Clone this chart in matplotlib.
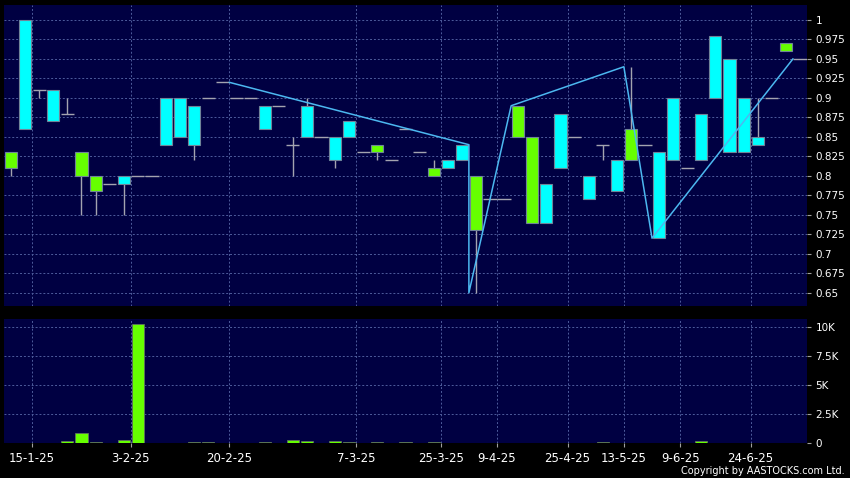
import numpy as np
import matplotlib.pyplot as plt

# one slot per trading day
opens = [0.83, 0.86, 0.91, 0.87, 0.88, 0.83, 0.80, 0.79, 0.79, 0.80,
         0.80, 0.84, 0.85, 0.84, 0.90, 0.92, 0.90, 0.90, 0.86, 0.89,
         0.84, 0.85, 0.85, 0.82, 0.85, 0.83, 0.84, 0.82, 0.86, 0.83,
         0.81, 0.81, 0.82, 0.80, 0.77, 0.77, 0.89, 0.85, 0.74, 0.81,
         0.85, 0.77, 0.84, 0.78, 0.86, 0.84, 0.72, 0.82, 0.81, 0.82,
         0.90, 0.83, 0.83, 0.84, 0.90, 0.97, 0.95]
highs = [0.83, 1.00, 0.91, 0.91, 0.90, 0.83, 0.80, 0.79, 0.80, 0.80,
         0.80, 0.90, 0.90, 0.89, 0.90, 0.92, 0.90, 0.90, 0.89, 0.89,
         0.85, 0.90, 0.85, 0.85, 0.87, 0.83, 0.84, 0.82, 0.86, 0.83,
         0.82, 0.82, 0.84, 0.80, 0.77, 0.77, 0.89, 0.85, 0.79, 0.88,
         0.85, 0.80, 0.84, 0.82, 0.94, 0.84, 0.83, 0.90, 0.81, 0.88,
         0.98, 0.95, 0.90, 0.90, 0.90, 0.97, 0.95]
lows = [0.80, 0.86, 0.90, 0.87, 0.88, 0.75, 0.75, 0.79, 0.75, 0.80,
        0.80, 0.84, 0.85, 0.82, 0.90, 0.92, 0.90, 0.90, 0.86, 0.89,
        0.80, 0.85, 0.85, 0.81, 0.85, 0.83, 0.82, 0.82, 0.86, 0.83,
        0.80, 0.81, 0.82, 0.65, 0.77, 0.77, 0.85, 0.74, 0.74, 0.81,
        0.85, 0.77, 0.82, 0.78, 0.82, 0.84, 0.72, 0.82, 0.81, 0.82,
        0.90, 0.83, 0.83, 0.84, 0.90, 0.96, 0.95]
closes = [0.81, 1.00, 0.91, 0.91, 0.88, 0.80, 0.78, 0.79, 0.80, 0.80,
          0.80, 0.90, 0.90, 0.89, 0.90, 0.92, 0.90, 0.90, 0.89, 0.89,
          0.84, 0.89, 0.85, 0.85, 0.87, 0.83, 0.83, 0.82, 0.86, 0.83,
          0.80, 0.82, 0.84, 0.73, 0.77, 0.77, 0.85, 0.74, 0.79, 0.88,
          0.85, 0.80, 0.84, 0.82, 0.82, 0.84, 0.83, 0.90, 0.81, 0.88,
          0.98, 0.95, 0.90, 0.85, 0.90, 0.96, 0.95]
volumes = [0, 60, 60, 80, 200, 900, 100, 0, 320, 10300,
           30, 0, 50, 100, 150, 60, 60, 0, 100, 0,
           320, 200, 30, 240, 120, 0, 100, 0, 100, 30,
           100, 0, 0, 0, 0, 0, 0, 0, 0, 0,
           30, 0, 100, 0, 0, 0, 0, 30, 0, 180,
           0, 0, 0, 0, 0, 30, 0]

# zigzag overlay (slot position, price)
zz_x = [15.5, 32.5, 32.5, 35.5, 43.5, 45.5, 55.5]
zz_y = [0.92, 0.84, 0.65, 0.89, 0.94, 0.72, 0.95]

date_pos = [1.5, 8.5, 15.5, 24.5, 30.5, 34.5, 39.5, 43.5, 47.5, 52.5]
date_labels = ['15-1-25', '3-2-25', '20-2-25', '7-3-25', '25-3-25',
               '9-4-25', '25-4-25', '13-5-25', '9-6-25', '24-6-25']
price_ticks = [0.65, 0.675, 0.7, 0.725, 0.75, 0.775, 0.8, 0.825,
               0.85, 0.875, 0.9, 0.925, 0.95, 0.975, 1.0]
vol_ticks = [0, 2500, 5000, 7500, 10000]
vol_labels = ['0', '2.5K', '5K', '7.5K', '10K']

bg = '#000042'
up_col = '#00ffff'
down_col = '#66ff00'
edge_col = '#6f8499'
line_grey = '#a4a4b0'
grid_col = '#4e5c9c'

o = np.array(opens)
h = np.array(highs)
l = np.array(lows)
c = np.array(closes)
v = np.array(volumes)
x = np.arange(len(o))

fig = plt.figure(figsize=(8.5, 4.78), dpi=100, facecolor='black')
ax = fig.add_axes([0.0047, 0.3598, 0.9447, 0.6287], facecolor=bg)
ax2 = fig.add_axes([0.0047, 0.0722, 0.9447, 0.2605], facecolor=bg)

# wicks
rng = h > l
ax.vlines(x[rng], l[rng], h[rng], color=line_grey, lw=1, zorder=2)

# bodies
up = c > o
dn = c < o
ax.bar(x[up], (c - o)[up], bottom=o[up], width=0.86, color=up_col,
       edgecolor=edge_col, lw=0.8, zorder=3)
ax.bar(x[dn], (o - c)[dn], bottom=c[dn], width=0.86, color=down_col,
       edgecolor=edge_col, lw=0.8, zorder=3)

# unchanged days drawn as a flat dash
fl = c == o
ax.hlines(c[fl], x[fl] - 0.47, x[fl] + 0.47, color=line_grey, lw=1, zorder=3)

ax.plot(zz_x, zz_y, color='#4cb8f0', lw=1.1, zorder=5)

# volume
nz = v > 0
ax2.bar(x[nz], v[nz], width=0.86, color=down_col, edgecolor='#607060', lw=0.6, zorder=3)

for a in (ax, ax2):
    a.set_xlim(-0.5, 56.5)
    a.set_xticks(date_pos)
    a.yaxis.tick_right()
    a.grid(True, color=grid_col, lw=0.7, linestyle=(0, (2, 2)))
    a.set_axisbelow(True)
    for s in a.spines.values():
        s.set_visible(False)
    a.tick_params(axis='y', colors='white', labelsize=7.5, length=3, pad=3)
    a.tick_params(axis='y', color='#a0a0a0')

ax.set_ylim(0.633, 1.0186)
ax.set_yticks(price_ticks)
ax.set_yticklabels(['%g' % t for t in price_ticks])
ax.tick_params(axis='x', length=0, labelbottom=False)

ax2.set_ylim(0, 10700)
ax2.set_yticks(vol_ticks)
ax2.set_yticklabels(vol_labels)
ax2.set_xticklabels(date_labels)
ax2.tick_params(axis='x', colors='white', labelsize=8.5, length=3, pad=3)
ax2.tick_params(axis='x', color='#a0a0a0')

fig.text(0.994, 0.015, 'Copyright by AASTOCKS.com Ltd.', ha='right', va='center',
         color='white', fontsize=7)

fig.savefig('out.png', dpi=100, facecolor='black')
